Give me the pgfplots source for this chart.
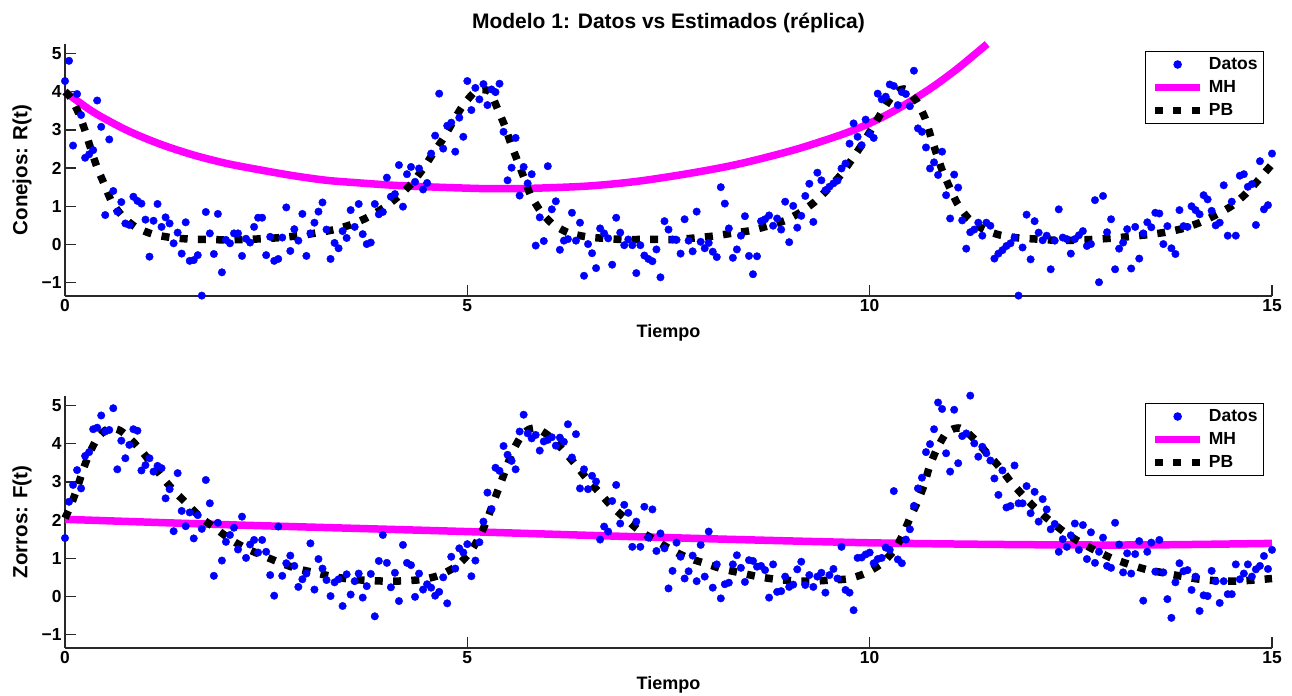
\documentclass[border=0pt]{standalone}
\usepackage{fontspec}
\setmainfont{Liberation Sans}
\usepackage{pgfplots}
\pgfplotsset{compat=1.18}
\definecolor{mag}{RGB}{255,0,255}
\definecolor{axgray}{RGB}{40,40,40}
\definecolor{datblue}{RGB}{0,0,255}

\pgfplotsset{
  myax/.style={
    scale only axis, width=1207bp, height=252bp,
    xmin=0, xmax=15, ymin=-1.35, ymax=5.25,
    axis x line*=bottom, axis y line*=left,
    axis line style={line width=1.2bp, draw=axgray},
    every tick/.style={line width=1.2bp, draw=axgray},
    tick align=inside, major tick length=11bp,
    xtick={0,5,10,15}, xticklabels={0,5,10,15},
    ytick={-1,0,1,2,3,4,5}, yticklabels={−1,0,1,2,3,4,5},
    ticklabel style={font=\fontsize{17.4bp}{19bp}\selectfont\bfseries},
    xlabel style={font=\fontsize{18bp}{20bp}\selectfont\bfseries, at={(axis description cs:0.5,-0.1468)}, anchor=center},
    ylabel style={font=\fontsize{20.5bp}{22bp}\selectfont\bfseries, at={(axis description cs:-0.0356,0.5)}, anchor=center},
    clip=false,
    legend style={at={(axis description cs:0.9934,0.9722)}, anchor=north east,
      draw=black, line width=1bp, fill=white,
      font=\fontsize{17.5bp}{19bp}\selectfont\bfseries,
      inner xsep=6bp, inner ysep=1.5bp, row sep=0pt, column sep=5bp,
      nodes={inner sep=0pt, minimum height=23bp}, cells={anchor=west}},
  },
  datstyle/.style={only marks, mark=*, mark size=3.75bp, mark options={draw=datblue, fill=datblue},
    legend image code/.code={\fill[datblue] (22.5bp,0bp) circle (3.75bp);}},
  mhstyle/.style={no marks, draw=mag, line width=7.5bp, smooth,
    legend image code/.code={\draw[draw=mag, line width=7.5bp] (0bp,0bp) -- (45bp,0bp);}},
  pbstyle/.style={no marks, draw=black, line width=7.5bp, dash pattern=on 8bp off 10.3bp, line cap=butt, smooth, tension=0.4,
    legend image code/.code={\draw[draw=black, line width=7.5bp, dash pattern=on 8bp off 10.3bp] (0bp,0bp) -- (45bp,0bp);}},
}

\begin{document}
\begin{tikzpicture}
\path[use as bounding box] (0,0) rectangle (1292bp,696bp);

\begin{axis}[myax, at={(65bp,400bp)}, anchor=south west,
  xlabel={Tiempo}, ylabel={Conejos: R(t)}]
\addplot[datstyle] coordinates {
(0.00,4.28)(0.05,4.81)(0.10,2.59)(0.15,3.94)(0.20,3.39)(0.25,2.27)(0.30,2.36)(0.35,2.47)(0.40,3.77)(0.45,3.08)
(0.50,0.77)(0.55,2.75)(0.60,1.40)(0.65,0.86)(0.70,1.11)(0.75,0.55)(0.80,0.51)(0.85,1.25)(0.90,1.14)(0.95,1.07)
(1.00,0.65)(1.05,-0.32)(1.10,0.62)(1.15,1.06)(1.20,0.46)(1.25,0.71)(1.30,0.55)(1.35,0.03)(1.40,0.31)(1.45,-0.24)
(1.50,0.58)(1.55,-0.43)(1.60,-0.41)(1.65,-0.28)(1.70,-1.34)(1.75,0.85)(1.80,0.29)(1.85,-0.25)(1.90,0.80)(1.95,-0.73)
(2.00,0.12)(2.05,0.03)(2.10,0.29)(2.15,0.29)(2.20,-0.30)(2.25,0.15)(2.30,0.05)(2.35,0.46)(2.40,0.70)(2.45,0.70)
(2.50,-0.28)(2.55,0.20)(2.60,-0.43)(2.65,-0.38)(2.70,0.18)(2.75,0.97)(2.80,-0.17)(2.85,0.40)(2.90,0.10)(2.95,0.80)
(3.00,-0.30)(3.05,0.29)(3.10,0.57)(3.15,0.86)(3.20,1.10)(3.25,0.39)(3.30,-0.38)(3.35,0.04)(3.40,-0.10)(3.45,0.35)
(3.50,0.17)(3.55,0.90)(3.60,0.46)(3.65,1.06)(3.70,0.27)(3.75,0.01)(3.80,0.05)(3.85,1.06)(3.90,0.79)(3.95,0.85)
(4.00,1.75)(4.05,1.25)(4.10,1.32)(4.15,2.08)(4.20,0.99)(4.25,1.84)(4.30,2.03)(4.35,1.64)(4.40,1.99)(4.45,1.44)
(4.50,1.61)(4.55,2.38)(4.60,2.85)(4.65,3.95)(4.70,2.51)(4.75,3.11)(4.80,3.19)(4.85,2.43)(4.90,3.32)(4.95,2.82)
(5.00,4.28)(5.05,3.52)(5.10,4.10)(5.15,3.80)(5.20,4.20)(5.25,3.65)(5.30,4.06)(5.35,3.99)(5.40,4.21)(5.45,2.95)
(5.50,1.68)(5.55,2.01)(5.60,2.79)(5.65,1.28)(5.70,2.03)(5.75,1.60)(5.80,1.84)(5.85,-0.03)(5.90,0.71)(5.95,0.09)
(6.00,2.05)(6.05,0.92)(6.10,1.13)(6.15,-0.14)(6.20,0.10)(6.25,0.14)(6.30,0.83)(6.35,0.10)(6.40,0.57)(6.45,-0.82)
(6.50,0.01)(6.55,-0.23)(6.60,-0.62)(6.65,0.42)(6.70,0.29)(6.75,0.16)(6.80,-0.53)(6.85,0.70)(6.90,0.31)(6.95,-0.02)
(7.00,0.13)(7.05,-0.02)(7.10,-0.75)(7.15,-0.02)(7.20,-0.29)(7.25,-0.38)(7.30,-0.44)(7.35,-0.13)(7.40,-0.86)(7.45,0.61)
(7.50,0.39)(7.55,0.13)(7.60,0.12)(7.65,-0.24)(7.70,0.66)(7.75,0.10)(7.80,-0.18)(7.85,0.86)(7.90,0.07)(7.95,-0.10)
(8.00,0.04)(8.05,-0.19)(8.10,-0.33)(8.15,1.50)(8.20,1.07)(8.25,0.42)(8.30,-0.35)(8.35,-0.13)(8.40,0.23)(8.45,0.74)
(8.50,-0.30)(8.55,-0.78)(8.60,-0.31)(8.65,0.61)(8.70,0.66)(8.75,0.76)(8.80,0.49)(8.85,0.68)(8.90,0.39)(8.95,1.12)
(9.00,0.06)(9.05,1.01)(9.10,0.44)(9.15,0.75)(9.20,1.27)(9.25,1.59)(9.30,0.59)(9.35,1.88)(9.40,1.68)(9.45,1.42)
(9.50,1.51)(9.55,1.60)(9.60,1.67)(9.65,1.99)(9.70,2.12)(9.75,2.64)(9.80,3.17)(9.85,2.82)(9.90,2.60)(9.95,3.27)
(10.00,2.90)(10.05,2.79)(10.10,3.95)(10.15,3.80)(10.20,3.87)(10.25,4.19)(10.30,4.15)(10.35,3.65)(10.40,3.99)(10.45,3.94)
(10.50,3.62)(10.55,4.55)(10.60,3.04)(10.65,2.95)(10.70,2.54)(10.75,1.99)(10.80,2.15)(10.85,1.82)(10.90,2.43)(10.95,1.29)
(11.00,0.68)(11.05,1.83)(11.10,1.49)(11.15,0.63)(11.20,-0.11)(11.25,0.32)(11.30,0.39)(11.35,0.57)(11.40,0.23)(11.45,0.57)
(11.50,0.49)(11.55,-0.37)(11.60,-0.24)(11.65,-0.15)(11.70,-0.04)(11.75,0.03)(11.80,0.18)(11.85,-1.34)(11.90,-0.08)(11.95,0.78)
(12.00,-0.39)(12.05,0.61)(12.10,0.31)(12.15,0.11)(12.20,0.23)(12.25,-0.65)(12.30,0.10)(12.35,0.92)(12.40,0.18)(12.45,0.14)
(12.50,-0.24)(12.55,0.14)(12.60,0.24)(12.65,0.35)(12.70,-0.04)(12.75,0.01)(12.80,1.16)(12.85,-0.99)(12.90,1.27)(12.95,0.32)
(13.00,0.66)(13.05,-0.65)(13.10,-0.11)(13.15,0.05)(13.20,0.40)(13.25,-0.63)(13.30,0.46)(13.35,-0.37)(13.40,0.29)(13.45,0.58)
(13.50,0.45)(13.55,0.83)(13.60,0.81)(13.65,0.01)(13.70,0.48)(13.75,-0.10)(13.80,-0.25)(13.85,0.90)(13.90,0.48)(13.95,0.46)
(14.00,1.00)(14.05,0.90)(14.10,0.79)(14.15,1.29)(14.20,1.18)(14.25,0.88)(14.30,0.50)(14.35,0.57)(14.40,1.55)(14.45,0.23)
(14.50,1.12)(14.55,0.23)(14.60,1.80)(14.65,1.84)(14.70,1.51)(14.75,1.58)(14.80,0.51)(14.85,2.18)(14.90,0.92)(14.95,1.03)
(15.00,2.38)
};
\addlegendentry{Datos}
\addplot[mhstyle] coordinates {
(0,4.0)(0.35,3.47)(0.77,2.99)(1.18,2.63)(1.6,2.34)(2.01,2.12)(2.43,1.95)(2.84,1.80)(3.25,1.68)(3.67,1.61)
(4.08,1.55)(4.5,1.51)(4.91,1.48)(5.3,1.46)(5.8,1.47)(6.5,1.53)(7.1,1.65)(7.7,1.84)(8.2,2.03)(8.6,2.22)
(9.1,2.50)(9.6,2.84)(9.9,3.08)(10.2,3.38)(10.5,3.74)(10.8,4.15)(11.1,4.62)(11.46,5.25)
};
\addlegendentry{MH}
\addplot[pbstyle] coordinates {
(0,4.0)(0.08,3.82)(0.18,3.39)(0.26,2.91)(0.33,2.44)(0.40,2.01)(0.49,1.57)(0.58,1.12)(0.71,0.75)(0.88,0.45)
(1.09,0.27)(1.32,0.18)(1.55,0.14)(1.77,0.13)(2.0,0.12)(2.23,0.13)(2.46,0.15)(2.68,0.18)(2.91,0.23)(3.12,0.30)
(3.35,0.39)(3.57,0.53)(3.76,0.71)(3.96,0.96)(4.15,1.27)(4.31,1.60)(4.45,1.98)(4.57,2.37)(4.70,2.77)(4.81,3.17)
(4.93,3.59)(5.07,3.95)(5.18,4.05)(5.28,4.0)(5.38,3.53)(5.47,3.08)(5.54,2.64)(5.62,2.21)(5.70,1.77)(5.78,1.32)
(5.90,0.90)(6.05,0.55)(6.25,0.31)(6.48,0.20)(6.70,0.16)(6.92,0.13)(7.15,0.13)(7.38,0.13)(7.60,0.13)(7.83,0.17)
(8.06,0.22)(8.28,0.29)(8.51,0.36)(8.73,0.48)(8.94,0.62)(9.13,0.83)(9.32,1.12)(9.48,1.45)(9.64,1.82)(9.77,2.20)
(9.90,2.60)(10.02,3.01)(10.14,3.43)(10.25,3.80)(10.35,4.02)(10.45,4.06)(10.59,3.73)(10.69,3.30)(10.76,2.82)(10.83,2.38)
(10.90,1.95)(10.99,1.51)(11.09,1.07)(11.22,0.70)(11.41,0.40)(11.63,0.24)(11.85,0.17)(12.08,0.14)(12.30,0.11)(12.53,0.11)
(12.76,0.13)(12.98,0.16)(13.20,0.20)(13.43,0.25)(13.65,0.31)(13.88,0.41)(14.10,0.57)(14.30,0.77)(14.50,1.01)(14.67,1.32)
(14.82,1.66)(15.0,2.10)
};
\addlegendentry{PB}
\end{axis}

\begin{axis}[myax, at={(65bp,48bp)}, anchor=south west,
  xlabel={Tiempo}, ylabel={Zorros: F(t)}]
\addplot[datstyle] coordinates {
(0.00,1.53)(0.05,2.48)(0.10,2.92)(0.15,3.31)(0.20,2.83)(0.25,3.68)(0.30,3.78)(0.35,4.38)(0.40,4.42)(0.45,4.74)
(0.50,4.32)(0.55,4.36)(0.60,4.93)(0.65,3.33)(0.70,4.08)(0.75,3.62)(0.80,3.97)(0.85,4.38)(0.90,4.34)(0.95,3.30)
(1.00,3.44)(1.05,3.62)(1.10,3.27)(1.15,3.42)(1.20,3.36)(1.25,2.57)(1.30,2.81)(1.35,1.71)(1.40,3.23)(1.45,2.24)
(1.50,1.84)(1.55,2.20)(1.60,1.52)(1.65,2.13)(1.70,1.77)(1.75,3.05)(1.80,2.44)(1.85,0.54)(1.90,1.93)(1.95,0.94)
(2.00,1.43)(2.05,1.61)(2.10,1.80)(2.15,1.23)(2.20,2.09)(2.25,1.01)(2.30,1.36)(2.35,1.48)(2.40,1.15)(2.45,1.48)
(2.50,1.17)(2.55,0.56)(2.60,0.02)(2.65,1.83)(2.70,0.54)(2.75,0.87)(2.80,1.07)(2.85,0.80)(2.90,0.25)(2.95,0.45)
(3.00,0.60)(3.05,1.39)(3.10,0.18)(3.15,0.98)(3.20,0.73)(3.25,0.43)(3.30,0.01)(3.35,0.37)(3.40,0.45)(3.45,-0.25)
(3.50,0.58)(3.55,0.05)(3.60,0.40)(3.65,0.60)(3.70,-0.03)(3.75,0.27)(3.80,0.59)(3.85,-0.52)(3.90,0.93)(3.95,1.61)
(4.00,0.88)(4.05,0.24)(4.10,0.62)(4.15,-0.12)(4.20,1.35)(4.25,0.88)(4.30,0.82)(4.35,-0.01)(4.40,0.60)(4.45,0.18)
(4.50,0.32)(4.55,0.23)(4.60,0.02)(4.65,0.12)(4.70,0.50)(4.75,-0.18)(4.80,1.04)(4.85,0.73)(4.90,1.26)(4.95,1.15)
(5.00,1.37)(5.05,0.53)(5.10,0.94)(5.15,1.42)(5.20,1.96)(5.25,2.72)(5.30,2.29)(5.35,3.37)(5.40,3.29)(5.45,3.94)
(5.50,3.71)(5.55,3.55)(5.60,3.33)(5.65,4.32)(5.70,4.76)(5.75,4.27)(5.80,4.14)(5.85,4.23)(5.90,3.82)(5.95,4.06)
(6.00,4.10)(6.05,4.17)(6.10,3.95)(6.15,4.16)(6.20,4.05)(6.25,4.51)(6.30,3.64)(6.35,4.25)(6.40,2.83)(6.45,3.33)
(6.50,2.81)(6.55,3.16)(6.60,3.01)(6.65,1.49)(6.70,1.83)(6.75,1.70)(6.80,2.50)(6.85,2.92)(6.90,1.91)(6.95,2.40)
(7.00,2.19)(7.05,1.30)(7.10,1.96)(7.15,1.30)(7.20,2.35)(7.25,1.54)(7.30,2.28)(7.35,1.19)(7.40,1.65)(7.45,1.26)
(7.50,0.21)(7.55,0.67)(7.60,1.41)(7.65,1.04)(7.70,0.47)(7.75,0.66)(7.80,1.07)(7.85,0.40)(7.90,1.35)(7.95,0.52)
(8.00,1.70)(8.05,0.23)(8.10,0.84)(8.15,-0.05)(8.20,0.32)(8.25,0.36)(8.30,0.84)(8.35,1.08)(8.40,0.75)(8.45,0.38)
(8.50,0.95)(8.55,0.93)(8.60,0.78)(8.65,0.80)(8.70,0.69)(8.75,-0.03)(8.80,0.84)(8.85,0.12)(8.90,0.14)(8.95,0.52)
(9.00,0.25)(9.05,0.31)(9.10,0.71)(9.15,0.91)(9.20,0.30)(9.25,0.56)(9.30,0.25)(9.35,0.52)(9.40,0.62)(9.45,0.10)
(9.50,0.56)(9.55,0.72)(9.60,0.47)(9.65,1.30)(9.70,0.17)(9.75,0.10)(9.80,-0.36)(9.85,1.01)(9.90,1.02)(9.95,1.10)
(10.00,1.15)(10.05,0.87)(10.10,0.98)(10.15,1.01)(10.20,1.28)(10.25,1.22)(10.30,2.76)(10.35,0.97)(10.40,0.87)(10.45,1.49)
(10.50,1.76)(10.55,2.37)(10.60,2.83)(10.65,3.11)(10.70,3.78)(10.75,3.99)(10.80,4.38)(10.85,5.08)(10.90,4.91)(10.95,3.75)
(11.00,3.27)(11.05,4.89)(11.10,3.49)(11.15,4.20)(11.20,4.27)(11.25,5.26)(11.30,4.01)(11.35,3.66)(11.40,3.92)(11.45,3.75)
(11.50,3.56)(11.55,3.09)(11.60,2.66)(11.65,3.30)(11.70,2.33)(11.75,2.37)(11.80,3.43)(11.85,2.44)(11.90,2.44)(11.95,2.89)
(12.00,2.18)(12.05,2.74)(12.10,1.96)(12.15,2.55)(12.20,2.28)(12.25,1.76)(12.30,1.90)(12.35,1.17)(12.40,1.50)(12.45,1.30)
(12.50,1.60)(12.55,1.91)(12.60,1.22)(12.65,1.87)(12.70,0.98)(12.75,1.68)(12.80,0.88)(12.85,1.17)(12.90,1.54)(12.95,0.80)
(13.00,0.75)(13.05,1.93)(13.10,1.36)(13.15,0.63)(13.20,1.13)(13.25,0.60)(13.30,1.11)(13.35,1.45)(13.40,-0.11)(13.45,1.17)
(13.50,1.41)(13.55,0.65)(13.60,1.48)(13.65,0.63)(13.70,-0.07)(13.75,-0.56)(13.80,0.37)(13.85,0.87)(13.90,0.66)(13.95,0.69)
(14.00,0.17)(14.05,0.52)(14.10,-0.38)(14.15,0.03)(14.20,0.01)(14.25,0.67)(14.30,0.40)(14.35,-0.17)(14.40,0.40)(14.45,0.06)
(14.50,0.06)(14.55,0.84)(14.60,0.45)(14.65,0.60)(14.70,0.84)(14.75,0.52)(14.80,0.71)(14.85,0.80)(14.90,1.06)(14.95,0.72)
(15.00,1.22)
};
\addlegendentry{Datos}
\addplot[mhstyle] coordinates {
(0,2.02)(2,1.88)(4.66,1.72)(7,1.57)(9.89,1.41)(12,1.355)(13.5,1.35)(15,1.39)
};
\addlegendentry{MH}
\addplot[pbstyle] coordinates {
(0,2.05)(0.07,2.37)(0.15,2.83)(0.22,3.29)(0.30,3.73)(0.40,4.14)(0.50,4.35)(0.58,4.41)(0.68,4.35)(0.78,4.19)
(0.94,3.84)(1.08,3.47)(1.22,3.09)(1.37,2.73)(1.53,2.40)(1.69,2.06)(1.88,1.77)(2.05,1.50)(2.25,1.26)(2.47,1.06)
(2.69,0.87)(2.88,0.73)(3.11,0.62)(3.33,0.52)(3.55,0.45)(3.77,0.42)(4.0,0.40)(4.23,0.41)(4.46,0.45)(4.66,0.56)
(4.87,0.80)(5.03,1.15)(5.15,1.56)(5.24,1.98)(5.32,2.44)(5.40,2.89)(5.48,3.34)(5.56,3.79)(5.67,4.20)(5.76,4.37)
(5.85,4.41)(5.95,4.30)(6.05,4.14)(6.20,3.81)(6.35,3.44)(6.49,3.07)(6.65,2.70)(6.79,2.37)(6.97,2.03)(7.14,1.72)
(7.33,1.48)(7.53,1.23)(7.73,1.02)(7.95,0.87)(8.17,0.72)(8.39,0.62)(8.61,0.52)(8.83,0.45)(9.06,0.41)(9.29,0.40)
(9.52,0.43)(9.73,0.46)(9.94,0.60)(10.14,0.85)(10.30,1.20)(10.41,1.61)(10.50,2.05)(10.60,2.50)(10.68,2.94)(10.74,3.38)
(10.83,3.84)(10.94,4.25)(11.03,4.38)(11.12,4.41)(11.22,4.28)(11.31,4.10)(11.46,3.75)(11.62,3.37)(11.75,3.01)(11.90,2.66)
(12.05,2.33)(12.23,2.0)(12.41,1.70)(12.59,1.45)(12.79,1.22)(13.0,1.01)(13.21,0.85)(13.43,0.71)(13.65,0.62)(13.87,0.53)
(14.10,0.45)(14.32,0.41)(14.55,0.40)(14.78,0.43)(15.0,0.47)
};
\addlegendentry{PB}
\end{axis}

\node[anchor=base, font=\fontsize{21bp}{24bp}\selectfont\bfseries] at (668.5bp,667.7bp) {Modelo 1: Datos vs Estimados (réplica)};
\end{tikzpicture}
\end{document}
